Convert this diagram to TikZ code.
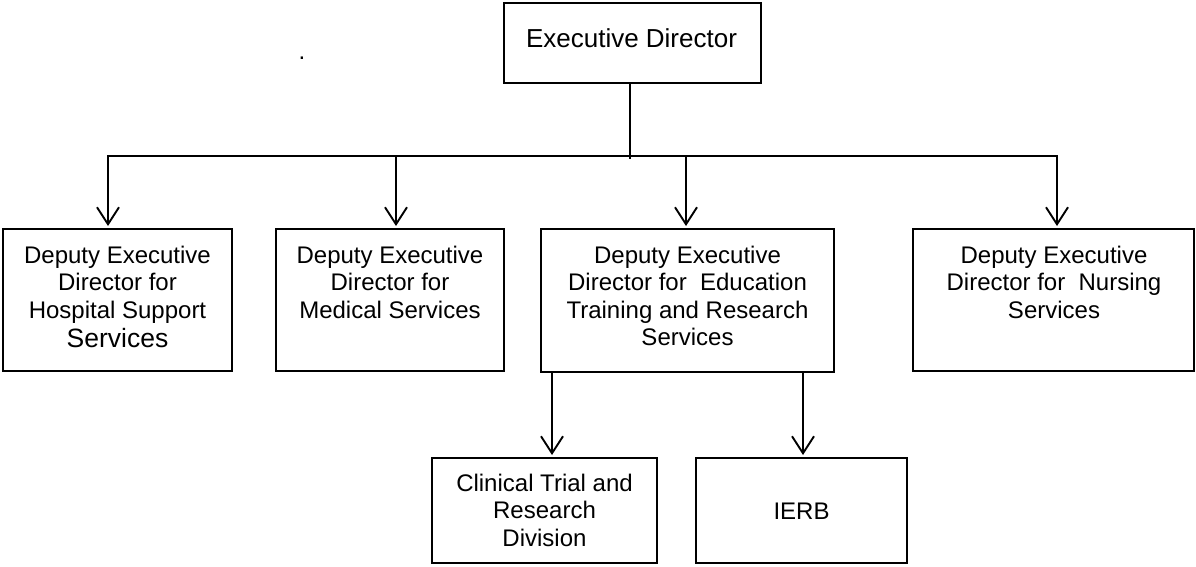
\documentclass[tikz,border=0pt]{standalone}
\usepackage{fontspec}
\setmainfont{Liberation Sans}
\usetikzlibrary{arrows.meta}
\begin{document}
\begin{tikzpicture}[x=1pt,y=-1pt,
  box/.style={draw,line width=1.9pt,inner sep=0pt,outer sep=0pt,anchor=north west},
  lbl/.style={inner sep=0pt,outer sep=0pt,align=center,anchor=north,
    font=\fontsize{24}{27.5}\selectfont},
  conn/.style={line width=1.9pt},
  arr/.style={line width=1.9pt,-{Straight Barb[length=17pt,width=22pt]},shorten >=3pt}]
\useasboundingbox (0,0) rectangle (1196,566);
% boxes
\node[box,minimum width=257pt,minimum height=80pt] (ex) at (504,3) {};
\node[box,minimum width=229pt,minimum height=142pt] (b1) at (3,229) {};
\node[box,minimum width=228pt,minimum height=142pt] (b2) at (276,229) {};
\node[box,minimum width=293pt,minimum height=143pt] (b3) at (541,229) {};
\node[box,minimum width=281pt,minimum height=142pt] (b4) at (913,229) {};
\node[box,minimum width=225pt,minimum height=105pt] (b5) at (432,458) {};
\node[box,minimum width=211pt,minimum height=105pt] (b6) at (696,458) {};
% texts
\node[inner sep=0pt,anchor=base,font=\fontsize{26}{30}\selectfont] (ext) at (631.5,47) {Executive Director};
\node[lbl] (b1t) at (117.5,246) {Deputy Executive\\Director for\\Hospital Support\\[1.5pt]{\fontsize{26.5}{29}\selectfont Services}};
\node[lbl] (b2t) at (390,246) {Deputy Executive\\Director for\\Medical Services};
\node[lbl] (b3t) at (687.5,246) {Deputy Executive\\Director for\ \ Education\\Training and Research\\Services};
\node[lbl] (b4t) at (1054,246) {Deputy Executive\\Director for\ \ Nursing\\Services};
\node[lbl] (b5t) at (544.5,474) {Clinical Trial and\\Research\\Division};
\node[inner sep=0pt,anchor=base,font=\fontsize{24}{27.5}\selectfont] (b6t) at (801.5,519) {IERB};
\node[inner sep=0pt,anchor=base,font=\fontsize{24}{28}\selectfont] (dot) at (302,59) {.};
% connectors
\coordinate (jc) at (630,159);
\coordinate (h1) at (108,156);
\coordinate (h2) at (396,156);
\coordinate (h3) at (686,156);
\coordinate (h4) at (1057,156);
\coordinate (k1) at (552,0);
\coordinate (k2) at (803,0);
\draw[conn] (ex.south -| jc) -- (jc);
\draw[conn] (h2) -- (h3);
\draw[arr] (h2) -- (h1) -- (h1 |- b1.north);
\draw[arr] (h3) -- (h4) -- (h4 |- b4.north);
\draw[arr] (h2) -- (h2 |- b2.north);
\draw[arr] (h3) -- (h3 |- b3.north);
\draw[arr] (b3.south -| k1) -- (k1 |- b5.north);
\draw[arr] (b3.south -| k2) -- (k2 |- b6.north);
\end{tikzpicture}
\end{document}
